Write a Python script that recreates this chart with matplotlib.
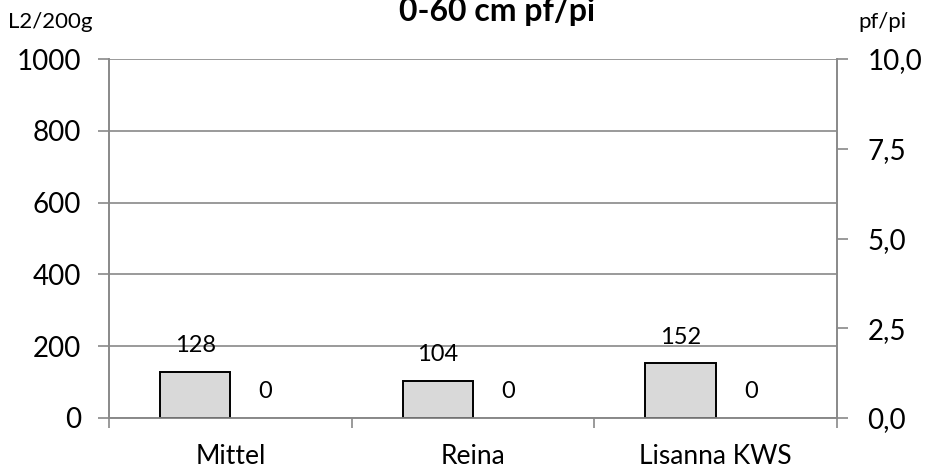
import numpy as np
import matplotlib
matplotlib.use("Agg")
import matplotlib.pyplot as plt

plt.rcParams["font.family"] = ["Lato", "DejaVu Sans"]

sorten = ["Mittel", "Reina", "Lisanna KWS"]
l2_werte = [128, 104, 152]
pfpi_werte = [0, 0, 0]
links_ticks = [0, 200, 400, 600, 800, 1000]
rechts_ticks = [0, 2.5, 5, 7.5, 10]
rechts_labels = ["0,0", "2,5", "5,0", "7,5", "10,0"]

grau = "#898989"

fig = plt.figure(figsize=(9.26, 4.74), dpi=100)
ax = fig.add_axes([109 / 926, 1 - 418 / 474, 728 / 926, 359 / 474])
ax2 = ax.twinx()

x = np.arange(len(sorten))
breite = 0.29

# linke Serie links der Kategoriemitte, rechte Serie (pf/pi) rechts davon
ax.bar(x - breite / 2, l2_werte, width=breite, color="#d9d9d9",
       edgecolor="black", linewidth=1.4, zorder=3)
ax.set_axisbelow(True)
ax2.bar(x + breite / 2, pfpi_werte, width=breite, color="none", linewidth=0)

for xi, v in zip(x, l2_werte):
    ax.annotate(str(v), (xi - breite / 2, v), xytext=(0, 19),
                textcoords="offset points", ha="center", va="center", fontsize=17)
for xi, v in zip(x, pfpi_werte):
    ax2.annotate(str(v), (xi + breite / 2, v), xytext=(0, 19),
                 textcoords="offset points", ha="center", va="center", fontsize=17)

ax.set_xlim(-0.5, len(sorten) - 0.5)
ax.set_ylim(0, 1000)
ax.set_yticks(links_ticks)
ax.set_yticklabels([str(t) for t in links_ticks], fontsize=20)
ax.yaxis.grid(True, color=grau, linewidth=1.2)

ax.set_xticks(x)
ax.set_xticklabels(sorten, fontsize=19)
ax.set_xticks(np.arange(len(sorten) + 1) - 0.5, minor=True)
ax.tick_params(axis="x", which="major", length=0, pad=19)
ax.tick_params(axis="x", which="minor", length=7, color=grau, width=1.2)
ax.tick_params(axis="y", length=8, color=grau, width=1.2, pad=12)

ax2.set_ylim(0, 10)
ax2.set_yticks(rechts_ticks)
ax2.set_yticklabels(rechts_labels, fontsize=20)
ax2.tick_params(axis="y", length=8, color=grau, width=1.2, pad=14)

for a in (ax, ax2):
    a.spines["top"].set_visible(False)
    for s in ("left", "right", "bottom"):
        a.spines[s].set_color(grau)
        a.spines[s].set_linewidth(1.2)

fig.text(8 / 926, 1 - 28 / 474, "L2/200g", fontsize=16, va="baseline", ha="left")
fig.text(858 / 926, 1 - 28 / 474, "pf/pi", fontsize=16, va="baseline", ha="left")
# Titel ist im Original oben angeschnitten
fig.text(497 / 926, 1 - 21 / 474, "0-60 cm pf/pi", fontsize=23, fontweight="bold",
         va="baseline", ha="center")

fig.savefig("out.png", dpi=100)
